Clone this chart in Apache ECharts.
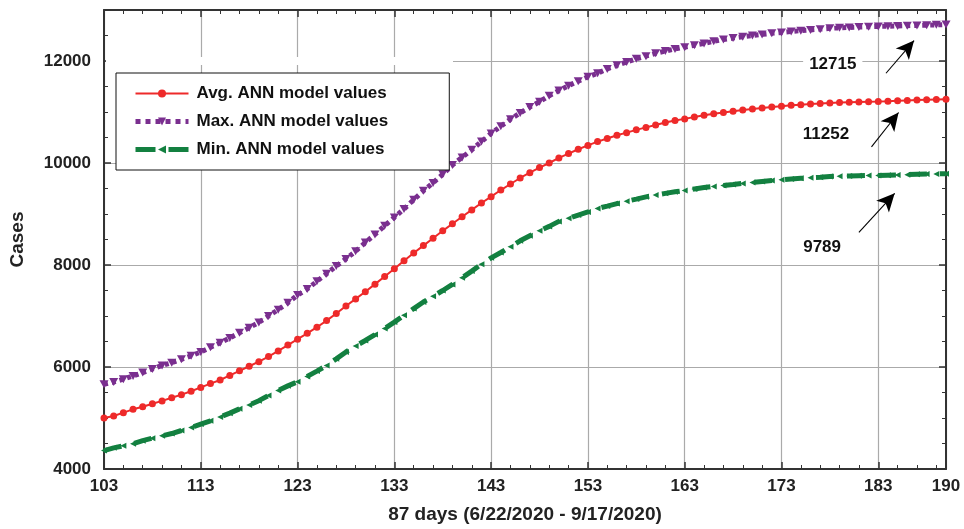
<!DOCTYPE html>
<html>
<head>
<meta charset="utf-8">
<script src="https://cdn.jsdelivr.net/npm/echarts@6/dist/echarts.min.js"></script>
<style>
  html, body { margin: 0; padding: 0; background: #fff; }
  #chart { width: 964px; height: 529px; }
</style>
</head>
<body>
<div id="chart"></div>
<script>
// days 103 .. 190
var days = [];
for (var d = 103; d <= 190; d++) days.push(d);

var avgValues = [
  5000, 5040, 5105, 5170, 5222, 5278, 5335, 5397, 5458, 5525,
  5600, 5675, 5745, 5835, 5925, 6015, 6105, 6205, 6315, 6430,
  6545, 6660, 6780, 6910, 7050, 7195, 7335, 7475, 7625, 7775,
  7925, 8085, 8235, 8380, 8525, 8670, 8810, 8945, 9080, 9215,
  9340, 9470, 9588, 9706, 9810, 9910, 10000, 10100, 10185, 10270,
  10345, 10420, 10480, 10545, 10595, 10650, 10698, 10745, 10795, 10835,
  10865, 10900, 10935, 10965, 10990, 11015, 11038, 11058, 11078, 11096,
  11115, 11130, 11143, 11155, 11165, 11176, 11184, 11191, 11197, 11202,
  11207, 11213, 11220, 11227, 11234, 11240, 11246, 11252
];

var maxValues = [
  5660, 5705, 5762, 5825, 5890, 5962, 6030, 6085, 6150, 6220,
  6295, 6385, 6475, 6570, 6670, 6770, 6875, 7000, 7125, 7260,
  7410, 7530, 7680, 7830, 7980, 8120, 8270, 8440, 8600, 8770,
  8933, 9098, 9280, 9455, 9610, 9780, 9960, 10110, 10260, 10420,
  10580, 10720, 10860, 10980, 11098, 11200, 11320, 11420, 11515, 11605,
  11690, 11760, 11845, 11915, 11980, 12045, 12095, 12150, 12195, 12235,
  12270, 12310, 12345, 12385, 12420, 12450, 12475, 12500, 12522, 12542,
  12560, 12578, 12595, 12610, 12625, 12640, 12650, 12658, 12665, 12671,
  12677, 12682, 12687, 12692, 12698, 12703, 12709, 12715
];

var minValues = [
  4362, 4415, 4455, 4495, 4555, 4605, 4650, 4695, 4755, 4815,
  4880, 4945, 5020, 5095, 5180, 5255, 5340, 5440, 5540, 5630,
  5710, 5815, 5920, 6030, 6160, 6295, 6410, 6520, 6635, 6755,
  6880, 7015, 7145, 7275, 7385, 7500, 7620, 7750, 7880, 8015,
  8140, 8245, 8360, 8475, 8575, 8673, 8757, 8855, 8915, 8980,
  9040, 9110, 9155, 9205, 9252, 9292, 9336, 9372, 9405, 9435,
  9460, 9492, 9518, 9540, 9560, 9578, 9600, 9620, 9638, 9656,
  9673, 9688, 9700, 9712, 9722, 9735, 9742, 9747, 9751, 9754,
  9757, 9762, 9767, 9772, 9777, 9782, 9786, 9789
];

var seriesNames = ["Avg. ANN model values", "Max. ANN model values", "Min. ANN model values"];

function pairs(vals) {
  return vals.map(function (v, i) { return [days[i], v]; });
}

var font = "'Liberation Sans', Arial, Helvetica, sans-serif";
var frame = "#333";
var red = "#ee2a2a", purple = "#7a2f8f", green = "#138040";

// arrow + final value annotation for a series
function endNote(value, textAt, from, to) {
  return {
    markPoint: {
      symbol: "circle",
      symbolSize: 1,
      itemStyle: { color: "rgba(0,0,0,0)" },
      label: {
        show: true,
        position: "inside",
        formatter: String(value),
        color: "#111",
        fontFamily: font,
        fontWeight: "bold",
        fontSize: 17,
        backgroundColor: "#fff",
        padding: [3, 6],
      },
      data: [{ coord: textAt }],
    },
    markLine: {
      silent: true,
      symbol: ["none", "arrow"],
      symbolSize: [13, 18],
      label: { show: false },
      lineStyle: { color: "#000", width: 1.1, type: "solid" },
      data: [[{ coord: from }, { coord: to }]],
    },
  };
}

var chart = echarts.init(document.getElementById("chart"));

var noteMax = endNote(maxValues[maxValues.length - 1], [178.3, 11935], [183.8, 11760], [186.7, 12400]);
var noteAvg = endNote(avgValues[avgValues.length - 1], [177.6, 10555], [182.3, 10315], [185.1, 10990]);
var noteMin = endNote(minValues[minValues.length - 1], [177.2, 8347], [181.0, 8640], [184.7, 9405]);

var axisFont = { fontFamily: font, fontWeight: "bold", fontSize: 17, color: "#222" };

var option = {
  animation: false,
  backgroundColor: "#fff",
  grid: { left: 104, right: 18, top: 10, bottom: 60 },
  legend: {
    orient: "vertical",
    left: 116,
    top: 73,
    padding: [12, 61, 12, 17],
    itemGap: 11,
    itemWidth: 53,
    itemHeight: 10,
    backgroundColor: "#fff",
    borderColor: "#111",
    borderWidth: 1,
    textStyle: { fontFamily: font, fontWeight: "bold", fontSize: 17, color: "#111", padding: [0, 0, 0, 3] },
    data: [
      { name: seriesNames[0], itemStyle: { color: red }, lineStyle: { width: 2 } },
      { name: seriesNames[1], itemStyle: { color: purple }, lineStyle: { width: 5, type: [5, 5] } },
      { name: seriesNames[2], itemStyle: { color: green }, lineStyle: { width: 5, type: [20, 13] } },
    ],
  },
  graphic: [
    { type: "rect", shape: { x: 106, y: 57, width: 347, height: 8 }, style: { fill: "#fff" }, z: 1 },
  ],
  xAxis: [
    {
      type: "value",
      min: 103,
      max: 190,
      interval: 10,
      name: "87 days (6/22/2020 - 9/17/2020)",
      nameLocation: "middle",
      nameGap: 36,
      nameTextStyle: { fontFamily: font, fontWeight: "bold", fontSize: 19, color: "#222" },
      axisLine: { lineStyle: { color: frame, width: 2 } },
      axisTick: { inside: true, length: 7, lineStyle: { color: frame, width: 1.5 } },
      minorTick: { show: true, splitNumber: 5, length: 4, lineStyle: { color: frame, width: 1 } },
      axisLabel: Object.assign({ margin: 9, showMaxLabel: true }, axisFont),
      splitLine: { show: true, lineStyle: { color: "#aaa", width: 1.2 } },
    },
    {
      type: "value",
      position: "top",
      min: 103,
      max: 190,
      interval: 10,
      axisLine: { lineStyle: { color: frame, width: 2 } },
      axisTick: { inside: true, length: 7, lineStyle: { color: frame, width: 1.5 } },
      minorTick: { show: true, splitNumber: 5, length: 4, lineStyle: { color: frame, width: 1 } },
      axisLabel: { show: false },
      splitLine: { show: false },
    },
  ],
  yAxis: [
    {
      type: "value",
      min: 4000,
      max: 13000,
      interval: 2000,
      name: "Cases",
      nameLocation: "middle",
      nameGap: 77,
      nameTextStyle: { fontFamily: font, fontWeight: "bold", fontSize: 19, color: "#222" },
      axisLine: { lineStyle: { color: frame, width: 2 } },
      axisTick: { inside: true, length: 7, lineStyle: { color: frame, width: 1.5 } },
      minorTick: { show: true, splitNumber: 4, length: 4, lineStyle: { color: frame, width: 1 } },
      axisLabel: Object.assign({
        margin: 13,
        showMaxLabel: false,
        formatter: function (v) { return String(v); },
      }, axisFont),
      splitLine: { show: true, lineStyle: { color: "#aaa", width: 1.2 } },
    },
    {
      type: "value",
      position: "right",
      min: 4000,
      max: 13000,
      interval: 2000,
      axisLine: { lineStyle: { color: frame, width: 2 } },
      axisTick: { inside: true, length: 7, lineStyle: { color: frame, width: 1.5 } },
      minorTick: { show: true, splitNumber: 4, length: 4, lineStyle: { color: frame, width: 1 } },
      axisLabel: { show: false },
      splitLine: { show: false },
    },
  ],
  series: [
    Object.assign({
      name: seriesNames[0],
      type: "line",
      data: pairs(avgValues),
      z: 4,
      symbol: "circle",
      symbolSize: 7,
      showAllSymbol: true,
      itemStyle: { color: red },
      lineStyle: { color: red, width: 2 },
    }, noteAvg),
    Object.assign({
      name: seriesNames[1],
      type: "line",
      data: pairs(maxValues),
      z: 3,
      symbol: "triangle",
      symbolRotate: 180,
      symbolSize: [9, 8],
      showAllSymbol: true,
      itemStyle: { color: purple },
      lineStyle: { color: purple, width: 5, type: [4, 4], cap: "butt" },
    }, noteMax),
    Object.assign({
      name: seriesNames[2],
      type: "line",
      data: pairs(minValues),
      z: 3,
      symbol: "triangle",
      symbolRotate: 90,
      symbolSize: [6, 6],
      showAllSymbol: true,
      itemStyle: { color: green },
      lineStyle: { color: green, width: 5, type: [18, 13], cap: "butt" },
    }, noteMin),
  ],
};

chart.setOption(option);
</script>
</body>
</html>
